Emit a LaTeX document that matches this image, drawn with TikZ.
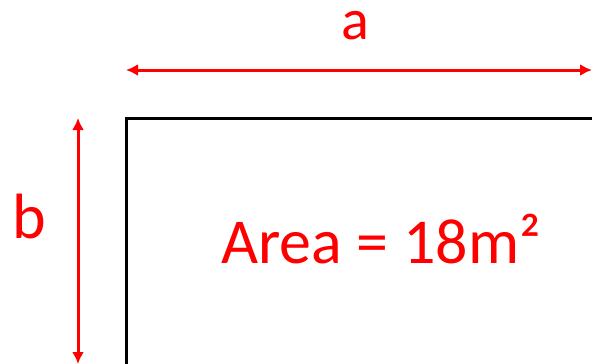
\documentclass[tikz,border=0pt]{standalone}
\usepackage{fontspec}
\setmainfont{Carlito}
\usetikzlibrary{arrows.meta}
\begin{document}
\begin{tikzpicture}[x=1pt, y=-1pt,
    dim/.style={red, line width=3pt, {Latex[length=12pt,width=12pt]}-{Latex[length=12pt,width=12pt]}},
    lbl/.style={red, anchor=base, inner sep=0pt, font=\fontsize{64}{70}\selectfont}]
    \useasboundingbox (0,0) rectangle (592,364);
    \clip (0,0) rectangle (592,364);

    % Rectangle (runs off the page)
    \coordinate (corner) at (126,118);
    \draw[line width=3pt] (650,118) -- (corner) -- (126,420);

    % Side a
    \coordinate (aleft) at (126,70);
    \coordinate (aright) at (592,70);
    \draw[dim] (aleft) -- (aright);
    \node[lbl, font=\fontsize{58}{62}\selectfont] (alabel) at (355,39) {a};

    % Side b
    \coordinate (btop) at (78,118);
    \coordinate (bbottom) at (78,364);
    \draw[dim] (btop) -- (bbottom);
    \node[lbl] (blabel) at (29,238) {b};

    % Area
    \node[lbl] (area) at (381,263) {Area = 18m²};

\end{tikzpicture}
\end{document}
